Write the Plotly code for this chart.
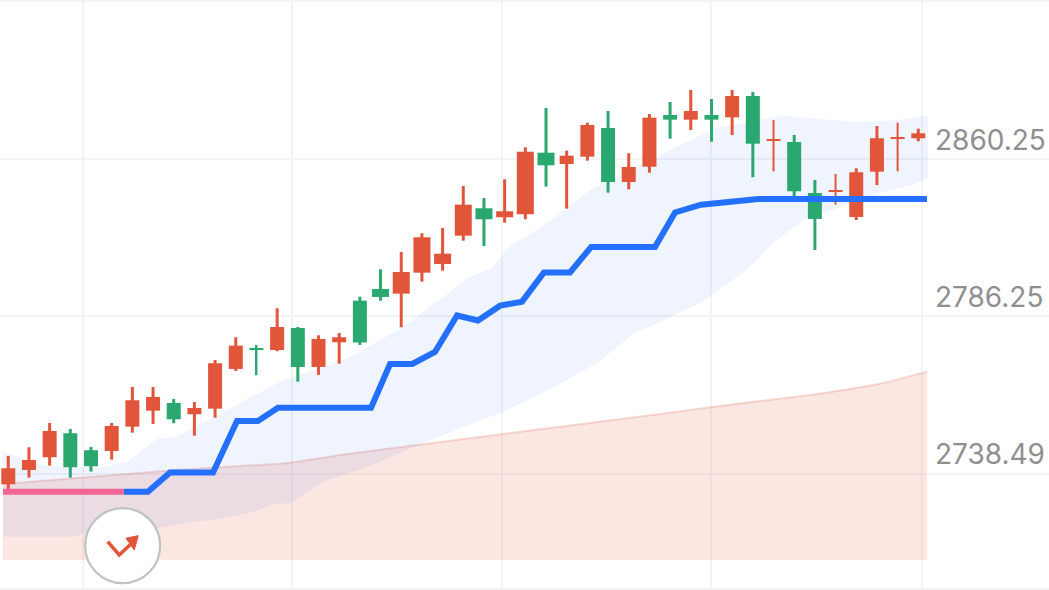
import plotly.graph_objects as go

# Candles, one per session, in price units
OPEN = [2706.95,2713.69,2719.67,2730.99,2722.97,2722.64,2734.10,2741.64,2745.27,2739.94,2742.58,2761.29,2771.05,2770.24,2780.61,
        2762.23,2773.87,2793.48,2798.99,2796.78,2806.68,2810.78,2824.11,2837.03,2832.79,2834.20,2863.23,2857.91,2861.35,2874.87,
        2849.42,2856.63,2881.00,2878.79,2881.00,2879.92,2889.96,2868.89,2868.28,2844.24,2844.85,2832.93,2854.28,2870.02,2870.02]
HIGH = [2720.29,2724.39,2735.84,2733.01,2724.53,2735.84,2752.81,2752.81,2747.15,2745.74,2765.53,2776.23,2772.60,2789.90,2781.08,
        2777.17,2778.26,2795.37,2808.28,2816.43,2825.25,2827.74,2847.54,2841.88,2850.70,2865.78,2884.30,2864.18,2877.37,2882.89,
        2862.95,2881.47,2887.13,2892.78,2888.54,2892.78,2891.84,2878.64,2871.57,2850.37,2853.19,2855.88,2875.82,2877.37,2874.54]
LOW = [2704.73,2710.06,2715.72,2710.06,2712.89,2718.54,2731.27,2735.37,2735.70,2729.85,2738.34,2760.35,2758.32,2769.63,2755.30,
       2758.46,2763.79,2772.60,2793.48,2780.94,2802.43,2807.62,2821.76,2819.26,2830.24,2831.84,2847.21,2836.84,2859.46,2844.38,
       2845.98,2853.81,2869.83,2873.93,2868.42,2871.57,2851.64,2854.47,2842.50,2817.37,2838.73,2831.51,2848.01,2854.47,2868.61]
CLOSE = [2714.49,2718.40,2732.07,2714.96,2715.43,2734.43,2746.54,2748.09,2737.58,2742.91,2763.98,2772.27,2770.24,2781.08,2762.23,
         2775.43,2776.23,2773.78,2795.22,2807.01,2823.36,2815.63,2838.73,2831.84,2835.61,2863.70,2857.29,2861.82,2876.29,2849.42,
         2856.49,2879.73,2878.79,2882.89,2878.79,2889.96,2867.47,2869.55,2845.04,2831.99,2845.65,2854.00,2870.02,2870.63,2872.38]
SESSIONS = list(range(len(OPEN)))

# Stepped blue level and the pink part of it
LEVEL_X = [5.59,6.75,7.82,9.90,11.06,12.07,13.04,17.54,18.46,19.53,20.63,21.70,22.71,23.78,24.84,25.90,27.16,28.18,31.27,32.24,33.50,36.26,44.42]
LEVEL_Y = [2703.46,2703.46,2712.52,2712.52,2736.78,2736.78,2743.05,2743.05,2763.65,2763.65,2769.30,2786.50,2784.15,2791.12,2793.01,2806.77,2806.77,2818.79,2818.79,2835.05,2838.73,2841.41,2841.41]
PINK_X = [-0.26,5.59]
PINK_Y = [2703.46,2703.46]

# Blue band
BAND_UP_X = [-0.24,1.37,2.65,4.43,5.77,7.18,8.14,13.14,16.04,17.15,19.09,21.50,22.33,23.37,24.26,25.87,28.13,29.92,31.03,32.48,34.26,37.46,39.88,41.04,42.97,44.47]
BAND_UP_Y = [2722.31,2716.52,2715.24,2714.63,2717.60,2728.30,2729.38,2755.30,2764.73,2770.24,2781.08,2798.52,2804.65,2808.75,2819.26,2828.69,2845.65,2854.14,2859.79,2866.86,2874.87,2880.67,2878.64,2877.70,2878.64,2880.67]
BAND_LO_X = [-0.24,3.13,3.71,7.34,8.87,9.90,11.83,12.80,13.62,15.22,16.52,17.01,20.05,23.92,25.85,28.47,30.30,31.51,33.45,35.71,36.20,36.98,38.43,42.30,43.75,44.47]
BAND_LO_Y = [2682.25,2682.25,2684.00,2686.35,2689.32,2690.12,2693.75,2697.66,2697.99,2708.17,2712.28,2713.69,2726.41,2741.17,2749.98,2764.12,2778.26,2783.44,2792.40,2807.95,2812.66,2820.67,2831.51,2844.71,2848.01,2851.31]

# Red area
AREA_X = [-0.26,7.67,13.62,16.04,23.92,31.51,34.03,39.10,42.30,44.42]
AREA_Y = [2707.09,2713.36,2717.13,2720.76,2730.66,2740.08,2743.38,2749.51,2754.69,2760.02]
AREA_BASE = [2671.27] * len(AREA_X)

# Axis
GRID_Y = [2934.7,2860.25,2786.25,2711.8,2657.6]
LABEL_Y = [2860.25,2786.25,2711.8]
LABEL_TEXT = ["2860.25","2786.25","2738.49"]
GRID_X = [3.59,13.72,23.87,34.0,44.2]

RED = "#E1553A"
GREEN = "#2AA86F"
BLUE = "#236FFF"
PINK = "#F26594"

wide = [18 <= i <= 26 for i in SESSIONS]
thin_wick = {12, 37, 40, 43}
colors = [RED if c >= o else GREEN for o, c in zip(OPEN, CLOSE)]

fig = go.Figure()

fig.add_trace(go.Scatter(x=AREA_X, y=AREA_BASE, mode="lines", line=dict(width=0), hoverinfo="skip", showlegend=False))
fig.add_trace(go.Scatter(x=AREA_X, y=AREA_Y, mode="lines", line=dict(color="rgba(226,85,58,0.2)", width=2, shape="spline", smoothing=0.5),
                         fill="tonexty", fillcolor="rgba(226,85,58,0.15)", showlegend=False))
fig.add_trace(go.Scatter(x=BAND_LO_X, y=BAND_LO_Y, mode="lines", line=dict(width=0), hoverinfo="skip", showlegend=False))
fig.add_trace(go.Scatter(x=BAND_UP_X, y=BAND_UP_Y, mode="lines", line=dict(width=0),
                         fill="tonexty", fillcolor="rgba(35,112,255,0.075)", showlegend=False))

fig.add_trace(go.Bar(x=SESSIONS, y=[h - l for h, l in zip(HIGH, LOW)], base=LOW,
                     width=[(2.0 if i in thin_wick else 3.0) / 20.68 for i in SESSIONS],
                     marker=dict(color=colors, line=dict(width=0)), xaxis="x2", yaxis="y2", showlegend=False))
fig.add_trace(go.Bar(x=SESSIONS, y=[abs(c - o) for o, c in zip(OPEN, CLOSE)], base=[min(o, c) for o, c in zip(OPEN, CLOSE)],
                     width=[(17.0 if w else 14.0) / 20.68 for w in wide],
                     marker=dict(color=colors, line=dict(width=0)), xaxis="x2", yaxis="y2", showlegend=False))

fig.add_trace(go.Scatter(x=LEVEL_X, y=LEVEL_Y, mode="lines", line=dict(color=BLUE, width=6),
                         xaxis="x2", yaxis="y2", showlegend=False))
fig.add_trace(go.Scatter(x=PINK_X, y=PINK_Y, mode="lines", line=dict(color=PINK, width=6),
                         xaxis="x2", yaxis="y2", showlegend=False))

for text, y in zip(LABEL_TEXT, LABEL_Y):
    fig.add_annotation(x=44.71, y=y, xref="x", yref="y", text=text, showarrow=False,
                       xanchor="left", yanchor="bottom", yshift=0.5,
                       font=dict(family="Inter", size=28, color="#8F8F8F"))

ICON_X, ICON_Y = 5.53, 2678.0
icon = dict(xref="x", yref="y", xsizemode="pixel", ysizemode="pixel", xanchor=ICON_X, yanchor=ICON_Y, layer="above")
fig.add_shape(type="circle", x0=-37.5, x1=37.5, y0=-37.5, y1=37.5, fillcolor="white",
              line=dict(color="#BEC3C4", width=2.2), **icon)
fig.add_shape(type="path", path="M -15 4 L -3.4 -9.3 L 9 2.4", line=dict(color=RED, width=3.6), **icon)
fig.add_shape(type="path", path="M 15.6 10 L 3.3 7.4 L 11.6 -4.3 Z", fillcolor=RED, line=dict(color=RED, width=1), **icon)

XR = [-0.40, 50.32]
YR = [2657.1, 2935.2]
grid = "#F4F4F6"
fig.update_layout(
    width=1049, height=590, margin=dict(l=0, r=0, t=0, b=0),
    paper_bgcolor="white", plot_bgcolor="white", barmode="overlay", showlegend=False,
    xaxis=dict(range=XR, tickvals=GRID_X, showticklabels=False, showgrid=True, gridcolor=grid, gridwidth=1.5,
               zeroline=False, showline=False, ticks=""),
    yaxis=dict(range=YR, tickvals=GRID_Y, showticklabels=False, showgrid=True, gridcolor=grid, gridwidth=1.5,
               zeroline=False, showline=False, ticks=""),
    xaxis2=dict(range=XR, overlaying="x", matches="x", visible=False),
    yaxis2=dict(range=YR, overlaying="y", matches="y", visible=False),
)
fig.write_html("out.html", config={"displayModeBar": False},
               post_script="document.body.style.margin='0';document.body.style.overflow='hidden';")
